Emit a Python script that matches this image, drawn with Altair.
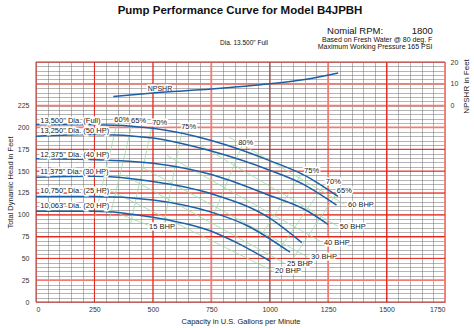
import altair as alt
import pandas as pd

FONT = "Liberation Sans"

# ---------------- head-capacity curves (gpm, ft) ----------------
gpm_13500 = [0, 250, 500, 750, 1000, 1150, 1292]
ft_13500 = [203, 203, 199, 185, 162, 145, 121]
gpm_13250 = [0, 250, 500, 750, 1000, 1150, 1286]
ft_13250 = [190, 192, 188, 173, 151, 134, 111]
gpm_12375 = [0, 250, 500, 750, 1000, 1150, 1249]
ft_12375 = [164, 163, 159, 146, 122, 106, 89]
gpm_11375 = [0, 250, 500, 750, 1000, 1137]
ft_11375 = [143, 144, 138, 124, 96, 68]
gpm_10750 = [0, 250, 500, 750, 900, 1087]
ft_10750 = [121, 121, 117, 103, 88, 57]
gpm_10063 = [0, 250, 500, 750, 873, 1001]
ft_10063 = [104, 104, 97, 81, 66, 47]

# NPSHR curve (gpm, ft NPSHR)
npshr_gpm = [331, 500, 750, 1000, 1150, 1293]
npshr_ft = [4.2, 5.8, 7.6, 10.0, 12.0, 15.0]

# efficiency lines (gpm, ft)
eff_names = ["60%", "65%", "70%", "75%", "80%", "75%r", "70%r", "65%r"]
eff_gpm = [[345, 250], [410, 315], [495, 405], [625, 540], [880, 760],
           [1140, 960], [1235, 1040], [1285, 1100]]
eff_ft = [[203, 96], [203, 96], [200, 90], [196, 80], [178, 100],
          [148, 75], [135, 60], [124, 50]]

# BHP lines (gpm, ft)
bhp_names = ["60 BHP", "50 BHP", "40 BHP", "30 BHP", "25 BHP", "20 BHP", "15 BHP"]
bhp_gpm = [[820, 1320], [700, 1290], [560, 1220], [450, 1160], [380, 1060],
           [300, 1010], [250, 480]]
bhp_ft = [[190, 112], [180, 87], [168, 69], [155, 52], [145, 45], [130, 36],
          [112, 88]]

# labels
dia_labels = ['13,500" Dia. (Full)', '13,250" Dia. (50 HP)', '12,375" Dia. (40 HP)',
              '11,375" Dia. (30 HP)', '10,750" Dia. (25 HP)', '10,063" Dia. (20 HP)']
dia_lab_gpm = [18, 18, 18, 18, 18, 18]
dia_lab_ft = [207.6, 195.7, 168.8, 149.2, 127.5, 109.5]

eff_labels = ["60%", "65%", "70%", "75%", "80%", "75%", "70%", "65%"]
eff_lab_gpm = [335, 407, 497, 621, 865, 1147, 1240, 1287]
eff_lab_ft = [208.5, 207.4, 205.5, 200, 182, 149.7, 138, 127.5]

bhp_labels = ["60 BHP", "50 BHP", "40 BHP", "30 BHP", "25 BHP", "20 BHP", "15 BHP"]
bhp_lab_gpm = [1335, 1300, 1232, 1177, 1074, 1023, 484]
bhp_lab_ft = [110.7, 86, 68, 51, 44, 35, 86]

# header texts
title_text = "Pump Performance Curve for Model B4JPBH"
rpm_label = "Nomial RPM:"
rpm_value = "1800"
water_text = "Based on Fresh Water @ 80 deg. F"
press_text = "Maximum Working Pressure 165 PSI"
dia_text = 'Dia. 13.500" Full'

# grid
x_minor = list(range(0, 1751, 50))
y_minor = list(range(0, 276, 5))
x_major_red = [0, 250, 500, 1000, 1500]
x_major_pink = [750, 1250, 1750]
y_major_red = [0, 50, 75, 100, 125, 150, 175, 275]
y_major_pink = [25, 200, 225, 250]

XS = alt.Scale(domain=[0, 1750], nice=False, zero=False)
YS = alt.Scale(domain=[0, 275], nice=False, zero=False)

x_axis = alt.Axis(values=x_minor, grid=True, gridColor="#6a6a6a", gridWidth=0.5,
                  labelExpr="datum.value % 250 == 0 ? datum.label : ''",
                  ticks=False, domain=False, labelFontSize=7, labelColor="#333",
                  labelPadding=3, title="Capacity in U.S. Gallons per Minute",
                  titleFontSize=7.5, titleFontWeight="normal", titleColor="#222",
                  titlePadding=5, labelFont=FONT, titleFont=FONT, format="d")
y_axis = alt.Axis(values=y_minor, grid=True, gridColor="#6a6a6a", gridWidth=0.5,
                  labelExpr="(datum.value % 25 == 0 && datum.value <= 225) ? datum.label : ''",
                  ticks=False, domain=False, labelFontSize=7, labelColor="#333",
                  labelPadding=7, title="Total Dynamic Head in Feet",
                  titleFontSize=7.5, titleFontWeight="normal", titleColor="#222",
                  titlePadding=3, labelFont=FONT, titleFont=FONT, format="d")

X = alt.X("gpm:Q", scale=XS, axis=x_axis)
Y = alt.Y("ft:Q", scale=YS, axis=y_axis)

# base layer carrying the axes/grid
base = alt.Chart(pd.DataFrame({"gpm": [0], "ft": [0]})).mark_point(opacity=0).encode(x=X, y=Y)

def rules_v(vals, color, width):
    return alt.Chart(pd.DataFrame({"gpm": vals})).mark_rule(color=color, strokeWidth=width).encode(x=X)

def rules_h(vals, color, width):
    return alt.Chart(pd.DataFrame({"ft": vals})).mark_rule(color=color, strokeWidth=width).encode(y=Y)

grid_layers = [
    rules_v(x_major_pink, "#ef7d74", 1.8),
    rules_h(y_major_pink, "#ef7d74", 1.8),
    rules_v(x_major_red, "#e2231a", 1.0),
    rules_h(y_major_red, "#e2231a", 1.0),
]

def seg_df(names, gs, fs):
    rows = []
    for n, g, f in zip(names, gs, fs):
        for i, (a, b) in enumerate(zip(g, f)):
            rows.append({"id": n, "gpm": a, "ft": b, "o": i})
    return pd.DataFrame(rows)

green_df = pd.concat([seg_df(eff_names, eff_gpm, eff_ft), seg_df(bhp_names, bhp_gpm, bhp_ft)])
green = alt.Chart(green_df).mark_line(color="#9ed9a6", strokeWidth=0.8).encode(
    x=X, y=Y, detail="id:N", order="o:Q")

curve_df = seg_df(["13.500", "13.250", "12.375", "11.375", "10.750", "10.063"],
                  [gpm_13500, gpm_13250, gpm_12375, gpm_11375, gpm_10750, gpm_10063],
                  [ft_13500, ft_13250, ft_12375, ft_11375, ft_10750, ft_10063])
curves = alt.Chart(curve_df).mark_line(color="#1b5fa6", strokeWidth=1.5, interpolate="monotone").encode(
    x=X, y=Y, detail="id:N", order="o:Q")

def text_layer(texts, gs, fs, size, align="left", weight="normal", halo=True, color="#222"):
    df = pd.DataFrame({"t": texts, "gpm": gs, "ft": fs})
    layers = []
    if halo:
        layers.append(alt.Chart(df).mark_text(font=FONT, fontSize=size, align=align, baseline="middle",
                                              fontWeight=weight, stroke="white", strokeWidth=3,
                                              fill="white").encode(x=X, y=Y, text="t:N"))
    layers.append(alt.Chart(df).mark_text(font=FONT, fontSize=size, align=align, baseline="middle",
                                          fontWeight=weight, color=color).encode(x=X, y=Y, text="t:N"))
    return layers

texts = []
texts += text_layer(dia_labels, dia_lab_gpm, dia_lab_ft, 7.5)
texts += text_layer(eff_labels, eff_lab_gpm, eff_lab_ft, 7.5)
texts += text_layer(bhp_labels, bhp_lab_gpm, bhp_lab_ft, 7.5)
texts += text_layer(["NPSHR"], [478], [244.4], 7)
texts += text_layer([title_text], [873], [333.8], 11.5, align="center", weight="bold", halo=False, color="#111")
texts += text_layer([rpm_label], [1485], [310.5], 9.5, align="right", halo=False, color="#111")
texts += text_layer([rpm_value], [1698], [310.5], 9.5, align="right", halo=False, color="#111")
texts += text_layer([water_text], [1696], [300.3], 7, align="right", halo=False, color="#111")
texts += text_layer([press_text], [1696], [291.8], 7, align="right", halo=False, color="#111")
texts += text_layer([dia_text], [890], [297.0], 6.5, align="center", halo=False, color="#111")

left = alt.layer(base, *grid_layers, green, curves, *texts)

npshr = alt.Chart(pd.DataFrame({"gpm": npshr_gpm, "n": npshr_ft})).mark_line(
    color="#1b5fa6", strokeWidth=1.5, interpolate="monotone").encode(
    x=X,
    y=alt.Y("n:Q", scale=alt.Scale(domain=[-90, 20], nice=False, zero=False),
            axis=alt.Axis(orient="right", values=[0, 10, 20], grid=False, ticks=False,
                          domain=False, labelFontSize=7, labelColor="#333", labelPadding=5,
                          labelFont=FONT, title="NPSHR in Feet", titleFont=FONT,
                          titleFontSize=8, titleFontWeight="normal", titleColor="#222",
                          titleAngle=270, titleX=21, titleY=24, titleAlign="center",
                          titleBaseline="middle")))

chart = alt.layer(left, npshr).resolve_scale(y="independent").properties(
    width=409, height=240,
    autosize=alt.AutoSizeParams(type="none"),
    padding={"left": 36, "top": 62, "right": 29, "bottom": 26},
).configure_view(stroke=None).configure(background="white")

chart.save("out.html", embed_options={"renderer": "svg", "actions": False})
